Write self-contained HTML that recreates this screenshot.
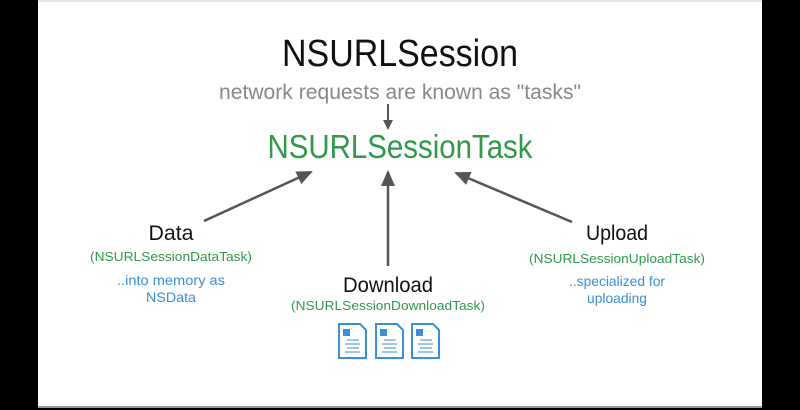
<!DOCTYPE html>
<html><head><style>html,body{margin:0;padding:0;background:#000;}svg{display:block}</style></head>
<body>
<svg width="800" height="410" viewBox="0 0 800 410" xmlns="http://www.w3.org/2000/svg" font-family="Liberation Sans, sans-serif">
<rect width="800" height="410" fill="#000"/>
<rect x="38" y="0" width="724" height="408" fill="#fff"/>
<rect x="38" y="0" width="724" height="2" fill="#e6e6e6"/>
<rect x="38" y="406" width="724" height="2" fill="#999"/>
<defs><marker id="a" markerWidth="10" markerHeight="10" refX="8" refY="5" orient="auto" markerUnits="userSpaceOnUse"><path d="M0,0 L10,5 L0,10 z" fill="#555"/></marker>
<marker id="b" markerWidth="16" markerHeight="14" refX="14" refY="7" orient="auto" markerUnits="userSpaceOnUse"><path d="M0,0 L16,7 L0,14 z" fill="#555"/></marker></defs>
<text x="400" y="66" font-size="38" text-anchor="middle" textLength="236" lengthAdjust="spacingAndGlyphs" fill="#111">NSURLSession</text>
<text x="400" y="99" font-size="21" text-anchor="middle" textLength="362" lengthAdjust="spacingAndGlyphs" fill="#888">network requests are known as "tasks"</text>
<line x1="388" y1="104" x2="388" y2="128" stroke="#555" stroke-width="2" marker-end="url(#a)"/>
<text x="400" y="158" font-size="33" text-anchor="middle" textLength="265" lengthAdjust="spacingAndGlyphs" fill="#2e9a4a">NSURLSessionTask</text>
<line x1="204" y1="221" x2="311" y2="172" stroke="#555" stroke-width="2.5" marker-end="url(#b)"/>
<line x1="388" y1="266" x2="388" y2="172" stroke="#555" stroke-width="2.5" marker-end="url(#b)"/>
<line x1="572" y1="222" x2="456" y2="173" stroke="#555" stroke-width="2.5" marker-end="url(#b)"/>
<text x="171" y="240" font-size="21" text-anchor="middle" textLength="45" lengthAdjust="spacingAndGlyphs" fill="#111">Data</text>
<text x="171" y="261" font-size="13" text-anchor="middle" textLength="162" lengthAdjust="spacingAndGlyphs" fill="#2e9a4a">(NSURLSessionDataTask)</text>
<text x="171" y="285" font-size="14" text-anchor="middle" textLength="108" lengthAdjust="spacingAndGlyphs" fill="#3a8fd8">..into memory as</text>
<text x="171" y="302" font-size="14" text-anchor="middle" textLength="50" lengthAdjust="spacingAndGlyphs" fill="#3a8fd8">NSData</text>
<text x="388" y="292" font-size="21" text-anchor="middle" textLength="90" lengthAdjust="spacingAndGlyphs" fill="#111">Download</text>
<text x="388" y="310" font-size="13" text-anchor="middle" textLength="194" lengthAdjust="spacingAndGlyphs" fill="#2e9a4a">(NSURLSessionDownloadTask)</text>
<text x="617" y="240" font-size="21" text-anchor="middle" textLength="62" lengthAdjust="spacingAndGlyphs" fill="#111">Upload</text>
<text x="617" y="263" font-size="13" text-anchor="middle" textLength="176" lengthAdjust="spacingAndGlyphs" fill="#2e9a4a">(NSURLSessionUploadTask)</text>
<text x="617" y="286" font-size="14" text-anchor="middle" textLength="96" lengthAdjust="spacingAndGlyphs" fill="#3a8fd8">..specialized for</text>
<text x="617" y="303" font-size="14" text-anchor="middle" textLength="60" lengthAdjust="spacingAndGlyphs" fill="#3a8fd8">uploading</text>
<g fill="none" stroke="#3a8fd8" stroke-width="2">
<g transform="translate(339,324)"><path d="M0,0 H21 L27,6 V34 H0 Z"/><rect x="4" y="5" width="7" height="7" fill="#3a8fd8" stroke="none"/><path d="M8,16 H20 M6,20 H21 M8,24 H20 M6,28 H21" stroke-width="1"/></g>
<g transform="translate(376,324)"><path d="M0,0 H21 L27,6 V34 H0 Z"/><rect x="4" y="5" width="7" height="7" fill="#3a8fd8" stroke="none"/><path d="M8,16 H20 M6,20 H21 M8,24 H20 M6,28 H21" stroke-width="1"/></g>
<g transform="translate(412,324)"><path d="M0,0 H21 L27,6 V34 H0 Z"/><rect x="4" y="5" width="7" height="7" fill="#3a8fd8" stroke="none"/><path d="M8,16 H20 M6,20 H21 M8,24 H20 M6,28 H21" stroke-width="1"/></g>
</g>
</svg>
</body></html>
